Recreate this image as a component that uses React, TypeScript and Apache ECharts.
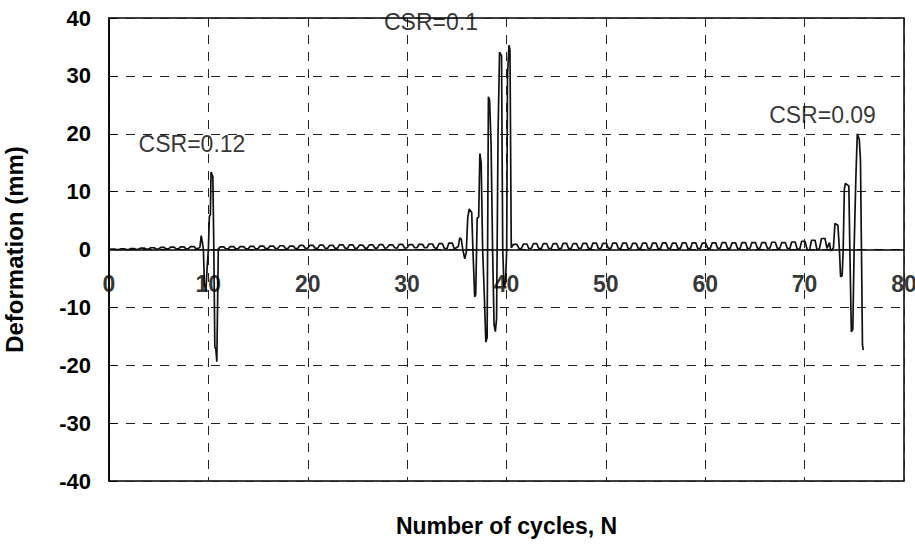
import React, { useEffect, useRef } from "react";
import * as echarts from "echarts";

// ---- Axis settings ----
const xMin = 0;
const xMax = 80;
const xStep = 10;
const yMin = -40;
const yMax = 40;
const yStep = 10;
// x tick labels sit on the zero line (axis crosses at Deformation = 0)
const xTickLabels = [0, 10, 20, 30, 40, 50, 60, 70, 80];

// ---- Test 1 (CSR = 0.12): small cycles before failure ----
const test1Start = 0;
const test1Peaks = [0.05, 0.1, 0.15, 0.25, 0.3, 0.35, 0.4, 0.45, 0.5];
const test1Troughs = [0, 0, 0, 0.05, 0.05, 0.1, 0.1, 0.1, 0.15];
const burst1N = [9.0, 9.15, 9.28, 9.4, 9.5, 9.6, 9.75, 9.88, 10.0, 10.1, 10.2, 10.27, 10.45, 10.55, 10.65, 10.75, 10.85];
const burst1D = [0.2, 0.4, 2.4, 1.2, 0.0, -6.0, -7.2, -3.0, 0.0, 5.7, 6.0, 13.4, 12.6, 0.0, -16.8, -17.2, -19.4];

// ---- Test 2 (CSR = 0.1) ----
const test2Start = 11;
const test2Peaks = [0.45, 0.5, 0.5, 0.55, 0.6, 0.6, 0.65, 0.6, 0.7, 0.7, 0.75, 0.7, 0.8, 0.8, 0.75, 0.8, 0.85, 0.8, 0.9, 0.85, 0.9, 0.95, 1.0, 1.1];
const test2Troughs = [0.1, 0.1, 0.15, 0.1, 0.15, 0.15, 0.2, 0.15, 0.2, 0.2, 0.2, 0.2, 0.25, 0.2, 0.25, 0.25, 0.25, 0.3, 0.25, 0.3, 0.3, 0.3, 0.2, 0.1];
const burst2N = [35.15, 35.3, 35.45, 35.6, 35.8, 35.95, 36.1, 36.25, 36.5, 36.62, 36.8, 36.9, 37.05, 37.2, 37.32, 37.45, 37.6, 37.78, 37.92, 38.05, 38.18, 38.3, 38.45, 38.6, 38.75, 38.88, 39.0, 39.15, 39.3, 39.5, 39.62, 39.75, 39.9, 40.02, 40.1, 40.25, 40.35, 40.48];
const burst2D = [0.5, 2.0, 1.8, 0.0, -1.6, -0.5, 5.5, 7.0, 6.4, 0.0, -8.2, -7.8, 5.4, 5.6, 16.6, 15.0, 0.0, -8.5, -16.0, -15.2, 26.4, 25.8, 18.0, 0.0, -13.0, -14.2, -12.0, 20.0, 34.1, 33.5, 0.0, -6.5, -5.8, 0.0, 30.0, 35.3, 34.5, 0.3];

// ---- Test 3 (CSR = 0.09) ----
const test3Start = 40.5;
const test3Peaks = [0.9, 0.95, 1.0, 1.0, 1.0, 1.05, 1.0, 1.05, 1.1, 1.05, 1.1, 1.1, 1.05, 1.1, 1.1, 1.15, 1.1, 1.15, 1.15, 1.1, 1.15, 1.2, 1.15, 1.2, 1.2, 1.2, 1.25, 1.2, 1.3, 1.4, 1.6, 1.9];
const test3Troughs = [0.2, 0.15, 0.2, 0.15, 0.2, 0.15, 0.2, 0.2, 0.15, 0.2, 0.2, 0.15, 0.2, 0.2, 0.15, 0.2, 0.2, 0.2, 0.15, 0.2, 0.2, 0.2, 0.2, 0.15, 0.2, 0.2, 0.2, 0.2, 0.1, 0.0, -0.1, 0.2];
const burst3N = [72.5, 72.62, 72.75, 72.9, 73.05, 73.35, 73.5, 73.62, 73.78, 73.88, 74.0, 74.1, 74.45, 74.55, 74.7, 74.85, 74.98, 75.15, 75.3, 75.5, 75.62, 75.72, 75.82, 75.9];
const burst3D = [1.2, -0.2, -0.1, 0.3, 4.5, 4.2, 0.0, -4.7, -4.5, 0.0, 10.5, 11.4, 11.0, 0.0, -14.2, -13.8, 0.0, 12.0, 20.0, 19.0, 15.4, 0.0, -16.5, -17.4];

// ---- Annotations ----
const csrLabels = ["CSR=0.12", "CSR=0.1", "CSR=0.09"];
const csrN = [8.35, 32.4, 71.8];
const csrD = [18.2, 39.3, 23.2];

const FONT = "'Liberation Sans', Arial, sans-serif";

function cyclePoints(start: number, peaks: number[], troughs: number[]): number[][] {
  const pts: number[][] = [];
  peaks.forEach((p, i) => {
    const n0 = start + i;
    pts.push([n0, troughs[i]]);
    pts.push([n0 + 0.2, p]);
    pts.push([n0 + 0.55, p]);
    pts.push([n0 + 0.75, troughs[i]]);
  });
  return pts;
}

function zipPoints(ns: number[], ds: number[]): number[][] {
  return ns.map((n, i) => [n, ds[i]]);
}

const traceData: number[][] = [
  ...cyclePoints(test1Start, test1Peaks, test1Troughs),
  ...zipPoints(burst1N, burst1D),
  ...cyclePoints(test2Start, test2Peaks, test2Troughs),
  ...zipPoints(burst2N, burst2D),
  ...cyclePoints(test3Start, test3Peaks, test3Troughs),
  ...zipPoints(burst3N, burst3D),
];

export default function App() {
  const ref = useRef<HTMLDivElement>(null);

  useEffect(() => {
    if (!ref.current) return;
    const chart = echarts.init(ref.current, null, { renderer: "svg" });
    const gridLine = { show: true, lineStyle: { color: "#222", width: 1, type: [9, 8] as number[] } };
    chart.setOption({
      animation: false,
      backgroundColor: "#fff",
      grid: {
        left: 109,
        right: 11,
        top: 18,
        bottom: 65,
        show: true,
        borderColor: "#000",
        borderWidth: 1.5,
        containLabel: false,
        outerBoundsMode: "none",
      },
      xAxis: {
        type: "value",
        min: xMin,
        max: xMax,
        interval: xStep,
        name: "Number of cycles, N",
        nameLocation: "middle",
        nameGap: 33,
        nameTextStyle: { fontFamily: FONT, fontSize: 23, fontWeight: "bold", color: "#000" },
        axisLine: { show: true, onZero: true, lineStyle: { color: "#000", width: 1.5 } },
        axisTick: { show: false },
        axisLabel: { show: false },
        splitLine: gridLine,
      },
      yAxis: {
        type: "value",
        min: yMin,
        max: yMax,
        interval: yStep,
        name: "Deformation (mm)",
        nameLocation: "middle",
        nameGap: 83,
        nameTextStyle: { fontFamily: FONT, fontSize: 24, fontWeight: "bold", color: "#000" },
        axisLine: { show: true, onZero: false, lineStyle: { color: "#000", width: 1.5 } },
        axisTick: { show: true, inside: true, length: 8, lineStyle: { color: "#000", width: 1 } },
        axisLabel: { fontFamily: FONT, fontSize: 22, fontWeight: "bold", color: "#000", margin: 18 },
        splitLine: gridLine,
      },
      series: [
        {
          type: "line",
          data: traceData,
          showSymbol: false,
          symbol: "none",
          clip: true,
          lineStyle: { color: "#111", width: 1.7 },
          z: 3,
        },
        {
          type: "scatter",
          data: csrLabels.map((name, i) => ({ name, value: [csrN[i], csrD[i]] })),
          symbolSize: 1,
          itemStyle: { color: "rgba(0,0,0,0)" },
          label: {
            show: true,
            position: "inside",
            formatter: (p: any) => p.name,
            fontFamily: FONT,
            fontSize: 23,
            color: "#000",
          },
          z: 4,
        },
        {
          type: "scatter",
          data: xTickLabels.map((v) => ({ name: String(v), value: [v, 0] })),
          symbolSize: 1,
          clip: false,
          itemStyle: { color: "rgba(0,0,0,0)" },
          label: {
            show: true,
            position: "bottom",
            distance: 22,
            formatter: (p: any) => p.name,
            fontFamily: FONT,
            fontSize: 23,
            fontWeight: "bold",
            color: "#000",
          },
          z: 5,
        },
      ],
    });
    return () => chart.dispose();
  }, []);

  return (
    <div
      ref={ref}
      style={{ position: "absolute", left: 0, top: 0, width: 915, height: 546, background: "#fff" }}
    />
  );
}
